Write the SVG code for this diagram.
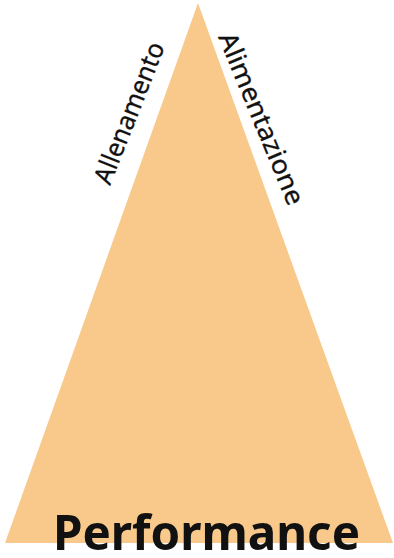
<svg xmlns="http://www.w3.org/2000/svg" width="394" height="558" viewBox="0 0 394 558">
<style>
.lbl{font-family:"Noto Sans","Open Sans","DejaVu Sans",sans-serif;font-size:26px;fill:#111;stroke:#111;stroke-width:0.3}
.big{font-family:"Noto Sans","Open Sans","DejaVu Sans",sans-serif;font-size:49px;font-weight:bold;fill:#111}
</style>
<rect width="394" height="558" fill="#ffffff"/>
<g id="pyramid">
<polygon points="198,3 5,543 393,543" fill="#F9C98B"/>
</g>
<g id="label-allenamento">
<text class="lbl" x="110" y="186" transform="rotate(-68.5 110 186)" textLength="150" lengthAdjust="spacingAndGlyphs">Allenamento</text>
</g>
<g id="label-alimentazione">
<text class="lbl" x="218" y="37" transform="rotate(67.5 218 37)" textLength="184" lengthAdjust="spacingAndGlyphs">Alimentazione</text>
</g>
<g id="label-performance">
<text class="big" x="53" y="550" textLength="307" lengthAdjust="spacingAndGlyphs">Performance</text>
</g>
<g id="connectors"></g>
</svg>
